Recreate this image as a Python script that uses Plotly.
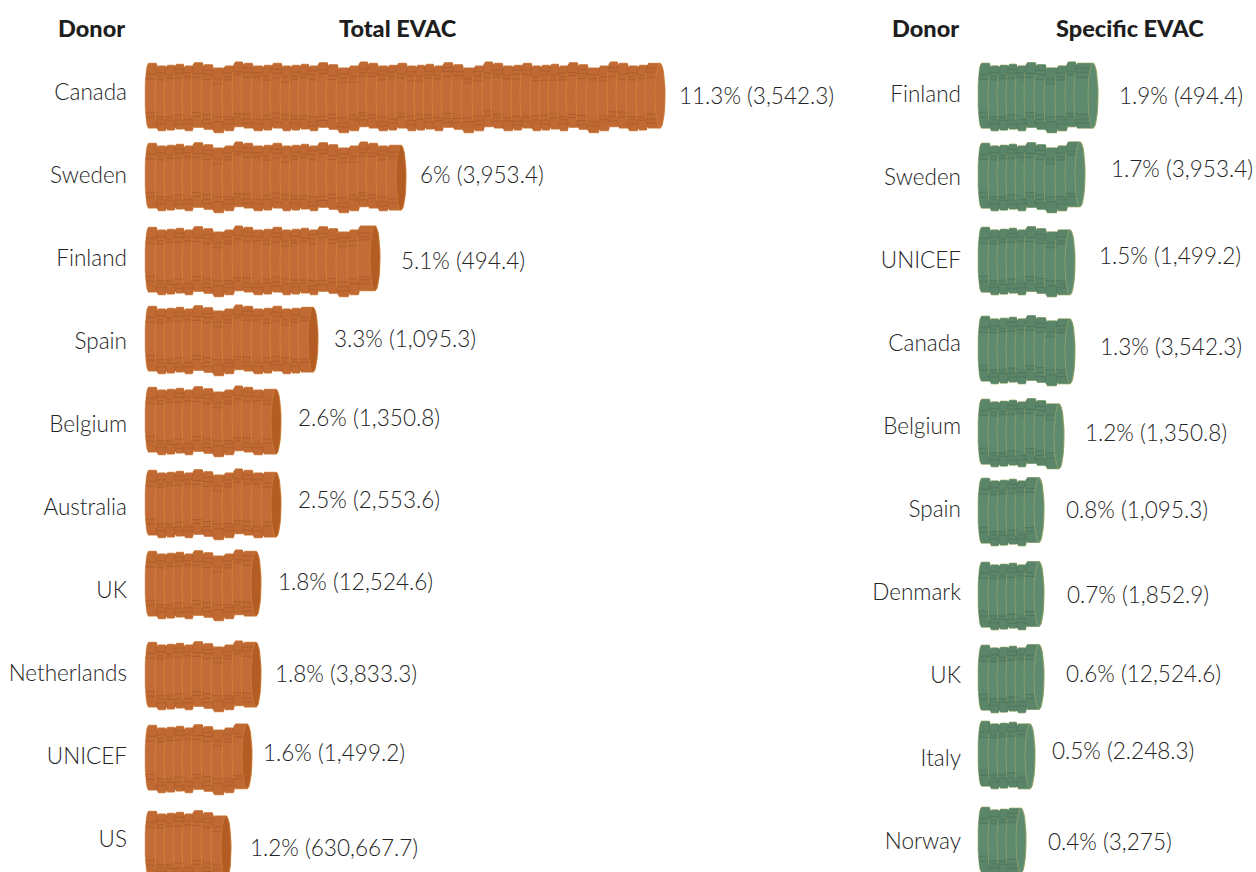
import math
import plotly.graph_objects as go

# ---- data ----
TOTAL_DONORS = ["Canada", "Sweden", "Finland", "Spain", "Belgium", "Australia", "UK", "Netherlands", "UNICEF", "US"]
TOTAL_PCT = ["11.3", "6", "5.1", "3.3", "2.6", "2.5", "1.8", "1.8", "1.6", "1.2"]
TOTAL_AMOUNT = ["3,542.3", "3,953.4", "494.4", "1,095.3", "1,350.8", "2,553.6", "12,524.6", "3,833.3", "1,499.2", "630,667.7"]
TOTAL_COINS = [53, 26, 23, 17, 13, 13, 11, 11, 10, 8]

SPECIFIC_DONORS = ["Finland", "Sweden", "UNICEF", "Canada", "Belgium", "Spain", "Denmark", "UK", "Italy", "Norway"]
SPECIFIC_PCT = ["1.9", "1.7", "1.5", "1.3", "1.2", "0.8", "0.7", "0.6", "0.5", "0.4"]
SPECIFIC_AMOUNT = ["494.4", "3,953.4", "1,499.2", "3,542.3", "1,350.8", "1,095.3", "1,852.9", "12,524.6", "2.248.3", "3,275"]
SPECIFIC_COINS = [11, 10, 9, 9, 8, 6, 6, 6, 5, 4]

# ---- layout and style constants ----
FONT = "Lato"
TEXT = "#242424"
ROW_STEP = 83
LEFT_LABEL_Y = [92 + ROW_STEP * i for i in range(10)]
RIGHT_LABEL_Y = [94 + ROW_STEP * i for i in range(10)]
LEFT_BAR_Y = [97, 177, 261, 340, 421, 504, 585, 676, 759, 845]
RIGHT_BAR_Y = [97, 177, 261, 350, 433, 512, 596, 679, 755, 841]
LEFT_VALUE_X = [14, 14, 21, 16, 17, 17, 17, 14, 11, 19]
RIGHT_VALUE_X = [21, 26, 24, 25, 21, 22, 23, 22, 17, 22]
LEFT_VALUE_Y = [98, 177, 263, 341, 420, 502, 584, 676, 755, 850]
RIGHT_VALUE_Y = [98, 171, 258, 349, 435, 512, 597, 676, 753, 844]
LEFT_END_EXTRA = [0, 0, 3, 0, 0, 0, 0, 0, 0, 0]
RIGHT_END_EXTRA = [4, 0, 0, 0, 0, 0, 0, 0, 0, 0]

COIN_H = 65.0
BULGE = 3.5
CAP_RX = 5.0
STARTS = [0, 10, 19, 28, 37, 46, 56, 66, 77, 87, 96, 106, 116]
CYCLE = 125
SHIFTS = [-1.3, 1.3, 0.7, -0.3, 1.3, -2.0, 0.0, 3.3, 1.3, -2.7, -1.3, 1.3, 0.7]
RIM_OFFSETS = [(11, 16), (7, 11, 14), (10, 13), (5, 9, 14), (7, 11), (11, 15), (6, 10, 15)]

ORANGE = dict(body="#c46c37", band="#c06933", stripe="#ac5c2c", arc="#cf8238", edge="#b3602a", halo="#ecc7a0", cap="#b35d25", rim="#cf8238")
GREEN = dict(body="#5e8b6e", band="#5a8569", stripe="#4f7460", arc="#8a9c66", edge="#527a62", halo="#c8c98f", cap="#5e8b6e", rim="#9aa868")


def start(i):
    return CYCLE * (i // 13) + STARTS[i % 13]


def shift(i):
    return SHIFTS[i % 13]


def arc_x(x, t):
    return x + BULGE * (1 - math.sqrt(max(0.0, 1 - t * t)))


def coin_poly(x0, x1, c, right_bulge):
    ts = [-1 + k / 10 for k in range(21)]
    h = COIN_H / 2
    xs = [arc_x(x0, t) for t in ts] + [x1 + right_bulge * math.sqrt(max(0.0, 1 - t * t)) for t in reversed(ts)]
    ys = [c + t * h for t in ts] + [c + t * h for t in reversed(ts)]
    return xs + [xs[0], None], ys + [ys[0], None]


def bar_end(coins, extra):
    return start(coins - 1) + 20 + extra


def draw_row(fig, name, coins, centre, extra, xaxis, pal, dark_cap):
    polys_x, polys_y, band_x, band_y = [], [], [], []
    line_x, line_y, arc_xs, arc_ys, edge_x, edge_y = [], [], [], [], [], []
    h = COIN_H / 2
    end = bar_end(coins, extra)
    for i in range(coins):
        x0 = start(i)
        last = i == coins - 1
        x1 = end - CAP_RX if last else start(i + 1) + 1
        c = centre + shift(i)
        px, py = coin_poly(x0, x1, c, CAP_RX if last else BULGE)
        polys_x += px
        polys_y += py
        for sgn in (-1, 1):
            a, b = sgn * 0.99, sgn * (1 - 15 / h)
            right = x1 if last else x1 + BULGE * 0.3
            band_x += [arc_x(x0, a), arc_x(x0, b), right, right, arc_x(x0, a), None]
            band_y += [c + a * h, c + b * h, c + b * h, c + a * h, c + a * h, None]
            for off in RIM_OFFSETS[i % len(RIM_OFFSETS)]:
                t = sgn * (1 - off / h)
                line_x += [arc_x(x0, t), right, None]
                line_y += [c + t * h, c + t * h, None]
        ts = [-0.7 + k / 10 for k in range(15)]
        if i > 0:
            arc_xs += [arc_x(x0, t) for t in ts] + [None]
            arc_ys += [c + t * h for t in ts] + [None]
            for sgn in (-1, 1):
                tt = [sgn * (0.7 + k * 0.05) for k in range(6)]
                edge_x += [arc_x(x0, t) for t in tt] + [None]
                edge_y += [c + t * h for t in tt] + [None]
    i = coins - 1
    c = centre + shift(i)
    cap_ts = [k * math.pi / 24 for k in range(49)]
    cap_x = [end - CAP_RX + CAP_RX * math.cos(a) for a in cap_ts]
    cap_y = [c + h * math.sin(a) for a in cap_ts]

    common = dict(xaxis=xaxis, yaxis="y" if xaxis == "x" else "y2", mode="lines", hoverinfo="skip", showlegend=False, name=name)
    fig.add_trace(go.Scatter(x=polys_x, y=polys_y, line=dict(color=pal["halo"], width=1.2), **common))
    fig.add_trace(go.Scatter(x=polys_x, y=polys_y, fill="toself", fillcolor=pal["body"], line=dict(color=pal["body"], width=0), **common))
    fig.add_trace(go.Scatter(x=band_x, y=band_y, fill="toself", fillcolor=pal["band"], line=dict(color=pal["band"], width=0), **common))
    fig.add_trace(go.Scatter(x=line_x, y=line_y, line=dict(color=pal["stripe"], width=0.9), **common))
    fig.add_trace(go.Scatter(x=edge_x, y=edge_y, line=dict(color=pal["edge"], width=1.0), **common))
    fig.add_trace(go.Scatter(x=arc_xs, y=arc_ys, line=dict(color=pal["arc"], width=0.9), **common))
    fig.add_trace(go.Scatter(x=cap_x, y=cap_y, fill="toself", fillcolor=pal["cap"] if dark_cap else pal["body"],
                             line=dict(color=pal["rim"], width=0.7), **common))


fig = go.Figure()
for i, d in enumerate(TOTAL_DONORS):
    draw_row(fig, d, TOTAL_COINS[i], LEFT_BAR_Y[i], LEFT_END_EXTRA[i], "x", ORANGE, i > 0)
for i, d in enumerate(SPECIFIC_DONORS):
    draw_row(fig, d, SPECIFIC_COINS[i], RIGHT_BAR_Y[i], RIGHT_END_EXTRA[i], "x2", GREEN, False)

value_font = dict(family=FONT, size=22.5, color=TEXT, weight=300)
fig.add_trace(go.Scatter(
    x=[bar_end(n, e) + g for n, e, g in zip(TOTAL_COINS, LEFT_END_EXTRA, LEFT_VALUE_X)], y=LEFT_VALUE_Y,
    text=[f"{p}% ({a})" for p, a in zip(TOTAL_PCT, TOTAL_AMOUNT)],
    mode="text", textposition="middle right", textfont=value_font, hoverinfo="skip",
    showlegend=False, cliponaxis=False, xaxis="x", yaxis="y"))
fig.add_trace(go.Scatter(
    x=[bar_end(n, e) + g for n, e, g in zip(SPECIFIC_COINS, RIGHT_END_EXTRA, RIGHT_VALUE_X)], y=RIGHT_VALUE_Y,
    text=[f"{p}% ({a})" for p, a in zip(SPECIFIC_PCT, SPECIFIC_AMOUNT)],
    mode="text", textposition="middle right", textfont=value_font, hoverinfo="skip",
    showlegend=False, cliponaxis=False, xaxis="x2", yaxis="y2"))

W, H = 1256, 872
axis_off = dict(showgrid=False, zeroline=False, showline=False, showticklabels=False, ticks="")
y_common = dict(range=[H, 0], domain=[0, 1], showgrid=False, zeroline=False, showline=False, ticks="", ticklen=0,
                tickmode="array", tickfont=dict(family=FONT, size=22.5, color=TEXT, weight=300))
head_font = dict(family=FONT, size=23.5, color="#1e1e1e", weight=900)


def header(text, x, anchor):
    return dict(text=text, x=x / W, y=28, xref="paper", yref="y", xanchor=anchor, yanchor="middle",
                showarrow=False, font=head_font)


fig.update_layout(
    width=W, height=H, margin=dict(l=0, r=0, t=0, b=0), paper_bgcolor="white", plot_bgcolor="white",
    showlegend=False,
    xaxis=dict(domain=[128 / W, 850 / W], range=[-17, 705], anchor="y", **axis_off),
    xaxis2=dict(domain=[962 / W, 1], range=[-16, 278], anchor="y2", **axis_off),
    yaxis=dict(anchor="x", tickvals=LEFT_LABEL_Y, ticktext=TOTAL_DONORS, **y_common),
    yaxis2=dict(anchor="x2", tickvals=RIGHT_LABEL_Y, ticktext=SPECIFIC_DONORS, **y_common),
    annotations=[header("Donor", 127, "right"), header("Total EVAC", 398, "center"),
                 header("Donor", 961, "right"), header("Specific EVAC", 1130, "center")],
)
fig.write_html("out.html", config=dict(displayModeBar=False),
               post_script="document.body.style.margin='0';document.body.style.overflow='hidden';")
